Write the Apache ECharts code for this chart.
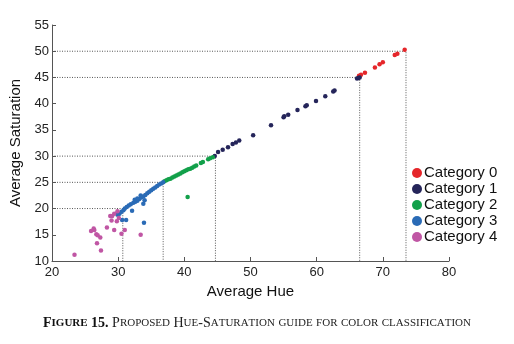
<!DOCTYPE html>
<html>
<head>
<meta charset="utf-8">
<script src="https://cdn.jsdelivr.net/npm/echarts@6/dist/echarts.min.js"></script>
<style>
  html, body { margin: 0; padding: 0; background: #fff; }
  #chart { width: 514px; height: 344px; }
</style>
</head>
<body>
<div id="chart"></div>
<script>
// [hue, saturation]
const category0 = [
  [66.4, 45.3], [66.7, 45.5], [67.3, 45.9], [68.8, 46.9], [69.5, 47.5],
  [70.0, 47.9], [71.8, 49.3], [72.2, 49.5], [73.3, 50.3]
]
const category1 = [
  [44.6, 30.0], [45.1, 30.8], [45.8, 31.2], [46.6, 31.7], [47.3, 32.3],
  [47.8, 32.6], [48.3, 33.0], [50.4, 34.0], [53.1, 35.9], [55.0, 37.4],
  [55.1, 37.6], [55.7, 37.9], [57.1, 38.8], [58.3, 39.5], [58.5, 39.7],
  [59.9, 40.5], [61.3, 41.4], [62.5, 42.3], [62.7, 42.5], [66.1, 44.8],
  [66.3, 44.9], [66.5, 45.0]
]
const category2 = [
  [37.0, 25.2], [37.3, 25.4], [37.6, 25.6], [37.9, 25.7], [38.2, 25.9],
  [38.5, 26.1], [38.8, 26.3], [39.1, 26.5], [39.4, 26.7], [39.7, 26.9],
  [40.0, 27.1], [40.3, 27.3], [40.6, 27.5], [40.9, 27.6], [41.2, 27.8],
  [41.5, 28.0], [41.8, 28.2], [42.5, 28.7], [42.8, 28.9], [43.6, 29.4],
  [43.9, 29.6], [44.3, 29.8], [40.5, 22.2]
]
const category3 = [
  [30.2, 19.0], [30.5, 19.4], [30.8, 19.7], [31.0, 20.0], [31.3, 20.3],
  [31.6, 20.6], [31.9, 20.8], [32.3, 21.1], [32.6, 21.3], [32.9, 21.5],
  [33.2, 21.8], [33.5, 22.1], [33.8, 22.3], [34.1, 22.6], [34.4, 22.9],
  [34.7, 23.2], [35.0, 23.5], [35.3, 23.8], [35.6, 24.0], [35.9, 24.3],
  [36.2, 24.6], [36.5, 24.8], [36.8, 25.0], [32.9, 21.9], [33.4, 22.5],
  [34.0, 21.6], [32.5, 21.7], [32.1, 19.6], [33.8, 20.9], [29.9, 18.8],
  [30.6, 17.8], [31.2, 17.8], [33.9, 17.3]
]
const category4 = [
  [25.9, 15.7], [26.3, 16.2], [26.4, 15.9], [26.7, 15.1], [26.9, 14.9],
  [27.3, 14.5], [26.8, 13.4], [27.4, 12.0], [23.4, 11.2], [28.3, 16.4],
  [29.4, 15.9], [29.0, 17.7], [29.8, 17.6], [30.1, 18.2], [28.8, 18.6],
  [29.1, 18.6], [29.4, 19.0], [29.9, 19.5], [33.4, 15.0], [31.0, 15.9],
  [30.5, 15.2]
]
const categoryNames = ['Category 0', 'Category 1', 'Category 2', 'Category 3', 'Category 4']
const categoryColors = ['#e5262a', '#25255a', '#12a04a', '#2a6bb6', '#c056a4']
// corners of the dotted guide lines [hue, saturation]
const guideCorners = [[73.5, 50], [66.5, 45], [44.7, 30], [36.8, 25], [30.7, 20]]
const xTicks = [20, 80, 10]
const yTicks = [10, 55, 5]
const caption = 'Figure 15. Proposed Hue-Saturation guide for color classification'

// small caps by hand, ECharts has no font-variant
let smallCaps = (text, bold) => {
  let out = ''
  for (const ch of text) {
    if (ch >= 'a' && ch <= 'z') out += `{${bold ? 'bs' : 's'}|${ch.toUpperCase()}}`
    else out += `{${bold ? 'bb' : 'b'}|${ch}}`
  }
  return out
}
const capSplit = caption.indexOf('.') + 1
const captionRich =
  smallCaps(caption.slice(0, capSplit), true) + smallCaps(caption.slice(capSplit), false)

const chart = echarts.init(document.getElementById('chart'))
const allData = [category0, category1, category2, category3, category4]

const scatterSeries = allData.map((data, i) => {
  return {
    name: categoryNames[i],
    type: 'scatter',
    data: data,
    symbolSize: 4.5,
    itemStyle: { color: categoryColors[i], opacity: 1 },
    z: 3
  }
})

const guideSeries = guideCorners.map(c => {
  return {
    type: 'line',
    data: [[xTicks[0], c[1]], c, [c[0], yTicks[0]]],
    symbol: 'none',
    silent: true,
    lineStyle: { color: '#555', width: 1, type: [1, 1.5] },
    z: 1
  }
})

const serifFont = 'Liberation Serif'
const sansFont = 'Liberation Sans'
chart.setOption({
  backgroundColor: '#fff',
  animation: false,
  title: {
    text: captionRich,
    left: 'center',
    top: 311,
    textStyle: {
      fontWeight: 'normal',
      rich: {
        b: { fontSize: 14, fontFamily: serifFont, color: '#222', fontWeight: 'normal' },
        s: { fontSize: 11, fontFamily: serifFont, color: '#222', fontWeight: 'normal' },
        bb: { fontSize: 14, fontFamily: serifFont, color: '#111', fontWeight: 'bold' },
        bs: { fontSize: 11, fontFamily: serifFont, color: '#111', fontWeight: 'bold' }
      }
    }
  },
  grid: {
    left: 45,
    right: 65,
    top: 25,
    bottom: 83
  },
  legend: {
    data: categoryNames,
    orient: 'vertical',
    left: 407,
    top: 160,
    itemWidth: 10,
    itemHeight: 10,
    itemGap: 0,
    icon: 'circle',
    itemStyle: { opacity: 1 },
    textStyle: {
      fontSize: 15,
      lineHeight: 16,
      fontFamily: sansFont,
      color: '#111',
      padding: [0, 0, 0, -3]
    }
  },
  xAxis: {
    type: 'value',
    min: xTicks[0],
    max: xTicks[1],
    interval: xTicks[2],
    name: 'Average Hue',
    nameLocation: 'middle',
    nameGap: 21,
    nameTextStyle: { fontSize: 15, fontFamily: sansFont, color: '#111' },
    splitLine: { show: false },
    axisLine: { lineStyle: { color: '#555' } },
    axisTick: { inside: true, length: 4, lineStyle: { color: '#555' } },
    axisLabel: { fontSize: 13, fontFamily: sansFont, color: '#222', margin: 5 }
  },
  yAxis: {
    type: 'value',
    min: yTicks[0],
    max: yTicks[1],
    interval: yTicks[2],
    name: 'Average Saturation',
    nameLocation: 'middle',
    nameGap: 29,
    nameTextStyle: { fontSize: 15, fontFamily: sansFont, color: '#111' },
    splitLine: { show: false },
    axisLine: { show: true, lineStyle: { color: '#555' } },
    axisTick: { show: true, inside: true, length: 4, lineStyle: { color: '#555' } },
    axisLabel: { fontSize: 13, fontFamily: sansFont, color: '#222', margin: 3 }
  },
  series: guideSeries.concat(scatterSeries)
})
</script>
</body>
</html>
